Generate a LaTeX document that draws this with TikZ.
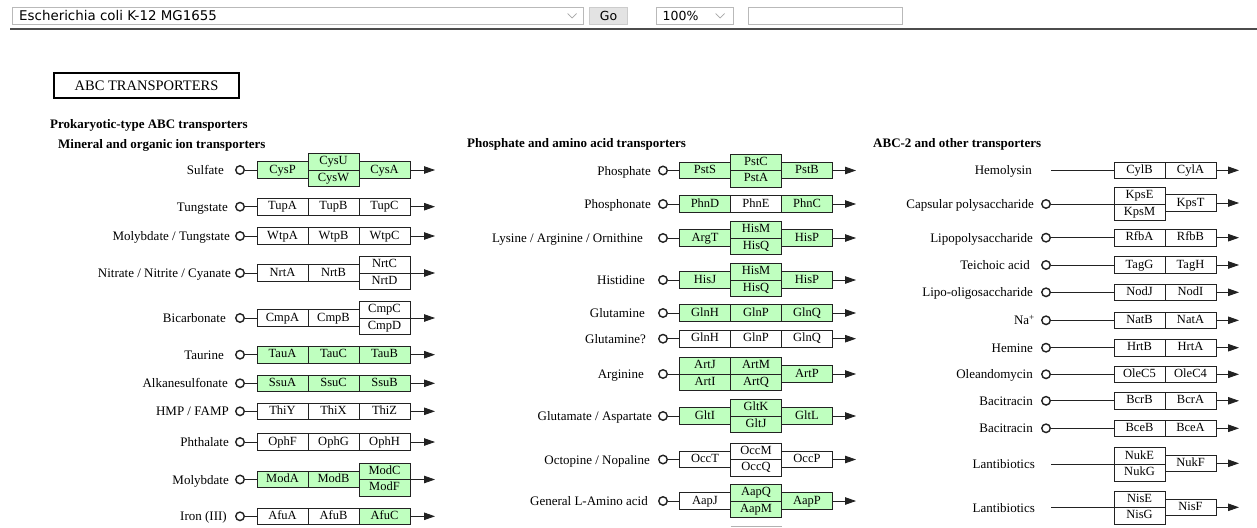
\documentclass[tikz,border=0pt]{standalone}
\usepackage{fontspec}
\setmainfont{Liberation Serif}
\newfontfamily\uifont{DejaVu Sans}
\usetikzlibrary{arrows.meta}
\definecolor{kgreen}{HTML}{BFFFBF}
\definecolor{kline}{HTML}{222222}
\newcommand\bx[6]{\node[#1,anchor=#3] (#2) at (#4,#5) {#6};}
\begin{document}
\begin{tikzpicture}[x=1pt,y=-1pt,
 gbox/.style={draw=kline, line width=0.8pt, fill=kgreen, minimum width=51pt, minimum height=16.6pt, inner sep=0pt, outer sep=0pt, text height=8.6pt, text depth=2.4pt, font=\fontsize{12.5}{14}\selectfont},
 wbox/.style={gbox, fill=white},
 lbl/.style={anchor=east, inner sep=0pt, text height=9pt, text depth=0pt, font=\fontsize{13}{15}\selectfont},
 port/.style={circle, draw=kline, line width=1.4pt, minimum size=8.5pt, inner sep=0pt, fill=white},
 conn/.style={draw=kline, line width=0.8pt},
 arr/.style={-{Triangle[length=11pt,width=7.5pt]}},
 hdr/.style={anchor=west, inner sep=0pt, font=\bfseries\fontsize{13}{15}\selectfont},
 uibox/.style={draw=gray!55, fill=white, line width=0.8pt, minimum height=17pt, inner sep=0pt, outer sep=0pt, anchor=north west},
 uitext/.style={inner sep=0pt, font=\uifont\fontsize{12.5}{14}\selectfont},
 chev/.style={draw=gray!70, line width=0.7pt}
]
\useasboundingbox (0,0) rectangle (1257,527);
\fill[white] (0,0) rectangle (1257,527);

% ---------- top bar ----------
\node[uibox, minimum width=570.5pt] (sel) at (12.5,7.5) {};
\node[uitext, anchor=west, font=\uifont\fontsize{13.4}{15}\selectfont] (selT) at (19,16) {Escherichia coli K-12 MG1655};
\draw[chev] (567.5,13.5) -- (572,18) -- (576.5,13.5);
\node[uibox, minimum width=38pt, fill=gray!22, draw=gray!40] (go) at (589.5,7.5) {};
\node[uitext] (goT) at (go.center) {Go};
\node[uibox, minimum width=77pt] (zm) at (656.5,7.5) {};
\node[uitext, anchor=west] (zmT) at (662.5,16) {100\%};
\draw[chev] (715.5,13.5) -- (720,18) -- (724.5,13.5);
\node[uibox, minimum width=154pt] (srch) at (748.5,7.5) {};
\coordinate (ruleA) at (10,29.5);
\coordinate (ruleB) at (1257,29.5);
\draw[line width=2pt, black!70] (ruleA) -- (ruleB);

% ---------- titles ----------
\node[draw=black, line width=1.8pt, minimum width=185pt, minimum height=25pt, inner sep=0pt, font=\fontsize{14.5}{16}\selectfont] (title) at (146.5,85.8) {ABC TRANSPORTERS};
\node[hdr] (h1) at (50,125) {Prokaryotic-type ABC transporters};
\node[hdr] (h2) at (58,145.5) {Mineral and organic ion transporters};
\node[hdr] (h3) at (467,144.8) {Phosphate and amino acid transporters};
\node[hdr] (h4) at (873,144.8) {ABC-2 and other transporters};

% ---------- left column ----------
% Sulfate
\node[lbl] (sulL) at (224,170) {Sulfate};
\node[port] (sulC) at (240,170) {};
\bx{gbox}{cysP}{west}{257}{170}{CysP}
\bx{gbox}{cysU}{south west}{308}{170}{CysU}
\bx{gbox}{cysW}{north west}{308}{170}{CysW}
\bx{gbox}{cysA}{west}{359}{170}{CysA}
\coordinate (sulE) at (435,170);
\draw[conn] (sulC) -- (cysP);
\draw[conn,arr] (cysA) -- (sulE);
% Tungstate
\node[lbl] (tunL) at (228,206.7) {Tungstate};
\node[port] (tunC) at (240,206.7) {};
\bx{wbox}{tupA}{west}{257}{206.7}{TupA}
\bx{wbox}{tupB}{west}{308}{206.7}{TupB}
\bx{wbox}{tupC}{west}{359}{206.7}{TupC}
\coordinate (tunE) at (435,206.7);
\draw[conn] (tunC) -- (tupA);
\draw[conn,arr] (tupC) -- (tunE);
% Molybdate / Tungstate
\node[lbl] (mtL) at (230,236) {Molybdate / Tungstate};
\node[port] (mtC) at (240,236) {};
\bx{wbox}{wtpA}{west}{257}{236}{WtpA}
\bx{wbox}{wtpB}{west}{308}{236}{WtpB}
\bx{wbox}{wtpC}{west}{359}{236}{WtpC}
\coordinate (mtE) at (435,236);
\draw[conn] (mtC) -- (wtpA);
\draw[conn,arr] (wtpC) -- (mtE);
% Nitrate
\node[lbl] (nitL) at (231,273) {Nitrate / Nitrite / Cyanate};
\node[port] (nitC) at (240,273) {};
\bx{wbox}{nrtA}{west}{257}{273}{NrtA}
\bx{wbox}{nrtB}{west}{308}{273}{NrtB}
\bx{wbox}{nrtC}{south west}{359}{273}{NrtC}
\bx{wbox}{nrtD}{north west}{359}{273}{NrtD}
\coordinate (nitE) at (435,273);
\draw[conn] (nitC) -- (nrtA);
\draw[conn,arr] (nrtC.south east) -- (nitE);
% Bicarbonate
\node[lbl] (bicL) at (226,318) {Bicarbonate};
\node[port] (bicC) at (240,318) {};
\bx{wbox}{cmpA}{west}{257}{318}{CmpA}
\bx{wbox}{cmpB}{west}{308}{318}{CmpB}
\bx{wbox}{cmpC}{south west}{359}{318}{CmpC}
\bx{wbox}{cmpD}{north west}{359}{318}{CmpD}
\coordinate (bicE) at (435,318);
\draw[conn] (bicC) -- (cmpA);
\draw[conn,arr] (cmpC.south east) -- (bicE);
% Taurine
\node[lbl] (tauL) at (224,354.7) {Taurine};
\node[port] (tauC) at (240,354.7) {};
\bx{gbox}{tauA}{west}{257}{354.7}{TauA}
\bx{gbox}{tauCb}{west}{308}{354.7}{TauC}
\bx{gbox}{tauB}{west}{359}{354.7}{TauB}
\coordinate (tauE) at (435,354.7);
\draw[conn] (tauC) -- (tauA);
\draw[conn,arr] (tauB) -- (tauE);
% Alkanesulfonate
\node[lbl] (alkL) at (228,383.3) {Alkanesulfonate};
\node[port] (alkC) at (240,383.3) {};
\bx{gbox}{ssuA}{west}{257}{383.3}{SsuA}
\bx{gbox}{ssuC}{west}{308}{383.3}{SsuC}
\bx{gbox}{ssuB}{west}{359}{383.3}{SsuB}
\coordinate (alkE) at (435,383.3);
\draw[conn] (alkC) -- (ssuA);
\draw[conn,arr] (ssuB) -- (alkE);
% HMP / FAMP
\node[lbl] (hmpL) at (229,411.3) {HMP / FAMP};
\node[port] (hmpC) at (240,411.3) {};
\bx{wbox}{thiY}{west}{257}{411.3}{ThiY}
\bx{wbox}{thiX}{west}{308}{411.3}{ThiX}
\bx{wbox}{thiZ}{west}{359}{411.3}{ThiZ}
\coordinate (hmpE) at (435,411.3);
\draw[conn] (hmpC) -- (thiY);
\draw[conn,arr] (thiZ) -- (hmpE);
% Phthalate
\node[lbl] (phtL) at (229,442) {Phthalate};
\node[port] (phtC) at (240,442) {};
\bx{wbox}{ophF}{west}{257}{442}{OphF}
\bx{wbox}{ophG}{west}{308}{442}{OphG}
\bx{wbox}{ophH}{west}{359}{442}{OphH}
\coordinate (phtE) at (435,442);
\draw[conn] (phtC) -- (ophF);
\draw[conn,arr] (ophH) -- (phtE);
% Molybdate
\node[lbl] (molL) at (229,479.5) {Molybdate};
\node[port] (molC) at (240,479.5) {};
\bx{gbox}{modA}{west}{257}{479.5}{ModA}
\bx{gbox}{modB}{west}{308}{479.5}{ModB}
\bx{gbox}{modC}{south west}{359}{479.5}{ModC}
\bx{gbox}{modF}{north west}{359}{479.5}{ModF}
\coordinate (molE) at (435,479.5);
\draw[conn] (molC) -- (modA);
\draw[conn,arr] (modC.south east) -- (molE);
% Iron (III)
\node[lbl] (fe3L) at (227,516.3) {Iron (III)};
\node[port] (fe3C) at (240,516.3) {};
\bx{wbox}{afuA}{west}{257}{516.3}{AfuA}
\bx{wbox}{afuB}{west}{308}{516.3}{AfuB}
\bx{gbox}{afuC}{west}{359}{516.3}{AfuC}
\coordinate (fe3E) at (435,516.3);
\draw[conn] (fe3C) -- (afuA);
\draw[conn,arr] (afuC) -- (fe3E);

% ---------- middle column ----------
% Phosphate
\node[lbl] (phoL) at (651,170.5) {Phosphate};
\node[port] (phoC) at (663,170.5) {};
\bx{gbox}{pstS}{west}{679.5}{170.5}{PstS}
\bx{gbox}{pstC}{south west}{730.5}{170.5}{PstC}
\bx{gbox}{pstA}{north west}{730.5}{170.5}{PstA}
\bx{gbox}{pstB}{west}{781.5}{170.5}{PstB}
\coordinate (phoE) at (856,170.5);
\draw[conn] (phoC) -- (pstS);
\draw[conn,arr] (pstB) -- (phoE);
% Phosphonate
\node[lbl] (phnL) at (651,204) {Phosphonate};
\node[port] (phnC) at (663,204) {};
\bx{gbox}{phnD}{west}{679.5}{204}{PhnD}
\bx{wbox}{phnE}{west}{730.5}{204}{PhnE}
\bx{gbox}{phnCb}{west}{781.5}{204}{PhnC}
\coordinate (phnEnd) at (856,204);
\draw[conn] (phnC) -- (phnD);
\draw[conn,arr] (phnCb) -- (phnEnd);
% Lysine / Arginine / Ornithine
\node[lbl] (lysL) at (643,238) {Lysine / Arginine / Ornithine};
\node[port] (lysC) at (663,238) {};
\bx{gbox}{argT}{west}{679.5}{238}{ArgT}
\bx{gbox}{hisM1}{south west}{730.5}{238}{HisM}
\bx{gbox}{hisQ1}{north west}{730.5}{238}{HisQ}
\bx{gbox}{hisP1}{west}{781.5}{238}{HisP}
\coordinate (lysE) at (856,238);
\draw[conn] (lysC) -- (argT);
\draw[conn,arr] (hisP1) -- (lysE);
% Histidine
\node[lbl] (hisL) at (645,280) {Histidine};
\node[port] (hisC) at (663,280) {};
\bx{gbox}{hisJ}{west}{679.5}{280}{HisJ}
\bx{gbox}{hisM2}{south west}{730.5}{280}{HisM}
\bx{gbox}{hisQ2}{north west}{730.5}{280}{HisQ}
\bx{gbox}{hisP2}{west}{781.5}{280}{HisP}
\coordinate (hisE) at (856,280);
\draw[conn] (hisC) -- (hisJ);
\draw[conn,arr] (hisP2) -- (hisE);
% Glutamine
\node[lbl] (glnL) at (645,313) {Glutamine};
\node[port] (glnC) at (663,313) {};
\bx{gbox}{glnH1}{west}{679.5}{313}{GlnH}
\bx{gbox}{glnP1}{west}{730.5}{313}{GlnP}
\bx{gbox}{glnQ1}{west}{781.5}{313}{GlnQ}
\coordinate (glnE) at (856,313);
\draw[conn] (glnC) -- (glnH1);
\draw[conn,arr] (glnQ1) -- (glnE);
% Glutamine?
\node[lbl] (gl2L) at (646,338.7) {Glutamine?};
\node[port] (gl2C) at (663,338.7) {};
\bx{wbox}{glnH2}{west}{679.5}{338.7}{GlnH}
\bx{wbox}{glnP2}{west}{730.5}{338.7}{GlnP}
\bx{wbox}{glnQ2}{west}{781.5}{338.7}{GlnQ}
\coordinate (gl2E) at (856,338.7);
\draw[conn] (gl2C) -- (glnH2);
\draw[conn,arr] (glnQ2) -- (gl2E);
% Arginine
\node[lbl] (argL) at (644,374) {Arginine};
\node[port] (argC) at (663,374) {};
\bx{gbox}{artJ}{south west}{679.5}{374}{ArtJ}
\bx{gbox}{artI}{north west}{679.5}{374}{ArtI}
\bx{gbox}{artM}{south west}{730.5}{374}{ArtM}
\bx{gbox}{artQ}{north west}{730.5}{374}{ArtQ}
\bx{gbox}{artP}{west}{781.5}{374}{ArtP}
\coordinate (argE) at (856,374);
\draw[conn] (argC) -- (artJ.south west);
\draw[conn,arr] (artP) -- (argE);
% Glutamate / Aspartate
\node[lbl] (gluL) at (652,416) {Glutamate / Aspartate};
\node[port] (gluC) at (663,416) {};
\bx{gbox}{gltI}{west}{679.5}{416}{GltI}
\bx{gbox}{gltK}{south west}{730.5}{416}{GltK}
\bx{gbox}{gltJ}{north west}{730.5}{416}{GltJ}
\bx{gbox}{gltL}{west}{781.5}{416}{GltL}
\coordinate (gluE) at (856,416);
\draw[conn] (gluC) -- (gltI);
\draw[conn,arr] (gltL) -- (gluE);
% Octopine / Nopaline
\node[lbl] (octL) at (650,459.5) {Octopine / Nopaline};
\node[port] (octC) at (663,459.5) {};
\bx{wbox}{occT}{west}{679.5}{459.5}{OccT}
\bx{wbox}{occM}{south west}{730.5}{459.5}{OccM}
\bx{wbox}{occQ}{north west}{730.5}{459.5}{OccQ}
\bx{wbox}{occP}{west}{781.5}{459.5}{OccP}
\coordinate (octE) at (856,459.5);
\draw[conn] (octC) -- (occT);
\draw[conn,arr] (occP) -- (octE);
% General L-Amino acid
\node[lbl] (aapL) at (648,501) {General L-Amino acid};
\node[port] (aapC) at (663,501) {};
\bx{wbox}{aapJ}{west}{679.5}{501}{AapJ}
\bx{gbox}{aapQ}{south west}{730.5}{501}{AapQ}
\bx{gbox}{aapM}{north west}{730.5}{501}{AapM}
\bx{gbox}{aapP}{west}{781.5}{501}{AapP}
\coordinate (aapE) at (856,501);
\draw[conn] (aapC) -- (aapJ);
\draw[conn,arr] (aapP) -- (aapE);
% cut-off box at the bottom edge
\draw[gray!60, line width=0.8pt] (730.5,526.5) -- (781.5,526.5);

% ---------- right column ----------
% Hemolysin
\node[lbl] (hemL) at (1032,170.3) {Hemolysin};
\coordinate (hemS) at (1051,170.3);
\bx{wbox}{cylB}{west}{1114}{170.3}{CylB}
\bx{wbox}{cylA}{west}{1165}{170.3}{CylA}
\coordinate (hemE) at (1239,170.3);
\draw[conn] (hemS) -- (cylB);
\draw[conn,arr] (cylA) -- (hemE);
% Capsular polysaccharide
\node[lbl] (capL) at (1034,204) {Capsular polysaccharide};
\node[port] (capC) at (1046,204) {};
\bx{wbox}{kpsE}{south west}{1114}{204}{KpsE}
\bx{wbox}{kpsM}{north west}{1114}{204}{KpsM}
\bx{wbox}{kpsT}{west}{1165}{203}{KpsT}
\coordinate (capE) at (1239,203);
\draw[conn] (capC) -- (kpsE.south west);
\draw[conn,arr] (kpsT) -- (capE);
% Lipopolysaccharide
\node[lbl] (lpsL) at (1033,237.7) {Lipopolysaccharide};
\node[port] (lpsC) at (1046,237.7) {};
\bx{wbox}{rfbA}{west}{1114}{237.7}{RfbA}
\bx{wbox}{rfbB}{west}{1165}{237.7}{RfbB}
\coordinate (lpsE) at (1239,237.7);
\draw[conn] (lpsC) -- (rfbA);
\draw[conn,arr] (rfbB) -- (lpsE);
% Teichoic acid
\node[lbl] (teiL) at (1030,265) {Teichoic acid};
\node[port] (teiC) at (1046,265) {};
\bx{wbox}{tagG}{west}{1114}{265}{TagG}
\bx{wbox}{tagH}{west}{1165}{265}{TagH}
\coordinate (teiE) at (1239,265);
\draw[conn] (teiC) -- (tagG);
\draw[conn,arr] (tagH) -- (teiE);
% Lipo-oligosaccharide
\node[lbl] (looL) at (1033,292.3) {Lipo-oligosaccharide};
\node[port] (looC) at (1046,292.3) {};
\bx{wbox}{nodJ}{west}{1114}{292.3}{NodJ}
\bx{wbox}{nodI}{west}{1165}{292.3}{NodI}
\coordinate (looE) at (1239,292.3);
\draw[conn] (looC) -- (nodJ);
\draw[conn,arr] (nodI) -- (looE);
% Na+
\node[lbl] (naL) at (1035,320.3) {Na\textsuperscript{+}};
\node[port] (naC) at (1046,320.3) {};
\bx{wbox}{natB}{west}{1114}{320.3}{NatB}
\bx{wbox}{natA}{west}{1165}{320.3}{NatA}
\coordinate (naE) at (1239,320.3);
\draw[conn] (naC) -- (natB);
\draw[conn,arr] (natA) -- (naE);
% Hemine
\node[lbl] (hmnL) at (1033,347.7) {Hemine};
\node[port] (hmnC) at (1046,347.7) {};
\bx{wbox}{hrtB}{west}{1114}{347.7}{HrtB}
\bx{wbox}{hrtA}{west}{1165}{347.7}{HrtA}
\coordinate (hmnE) at (1239,347.7);
\draw[conn] (hmnC) -- (hrtB);
\draw[conn,arr] (hrtA) -- (hmnE);
% Oleandomycin
\node[lbl] (oleL) at (1033,374.3) {Oleandomycin};
\node[port] (oleC) at (1046,374.3) {};
\bx{wbox}{oleC5}{west}{1114}{374.3}{OleC5}
\bx{wbox}{oleC4}{west}{1165}{374.3}{OleC4}
\coordinate (oleE) at (1239,374.3);
\draw[conn] (oleC) -- (oleC5);
\draw[conn,arr] (oleC4) -- (oleE);
% Bacitracin 1
\node[lbl] (bc1L) at (1033,400.8) {Bacitracin};
\node[port] (bc1C) at (1046,400.8) {};
\bx{wbox}{bcrB}{west}{1114}{400.8}{BcrB}
\bx{wbox}{bcrA}{west}{1165}{400.8}{BcrA}
\coordinate (bc1E) at (1239,400.8);
\draw[conn] (bc1C) -- (bcrB);
\draw[conn,arr] (bcrA) -- (bc1E);
% Bacitracin 2
\node[lbl] (bc2L) at (1033,428.3) {Bacitracin};
\node[port] (bc2C) at (1046,428.3) {};
\bx{wbox}{bceB}{west}{1114}{428.3}{BceB}
\bx{wbox}{bceA}{west}{1165}{428.3}{BceA}
\coordinate (bc2E) at (1239,428.3);
\draw[conn] (bc2C) -- (bceB);
\draw[conn,arr] (bceA) -- (bc2E);
% Lantibiotics 1
\node[lbl] (la1L) at (1035,464.3) {Lantibiotics};
\coordinate (la1S) at (1051,464.3);
\bx{wbox}{nukE}{south west}{1114}{464.3}{NukE}
\bx{wbox}{nukG}{north west}{1114}{464.3}{NukG}
\bx{wbox}{nukF}{west}{1165}{463.3}{NukF}
\coordinate (la1E) at (1239,463.3);
\draw[conn] (la1S) -- (nukE.south west);
\draw[conn,arr] (nukF) -- (la1E);
% Lantibiotics 2
\node[lbl] (la2L) at (1035,507.5) {Lantibiotics};
\coordinate (la2S) at (1051,507.5);
\bx{wbox}{nisE}{south west}{1114}{507.5}{NisE}
\bx{wbox}{nisG}{north west}{1114}{507.5}{NisG}
\bx{wbox}{nisF}{west}{1165}{507.3}{NisF}
\coordinate (la2E) at (1239,507.3);
\draw[conn] (la2S) -- (nisE.south west);
\draw[conn,arr] (nisF) -- (la2E);
\end{tikzpicture}
\end{document}
